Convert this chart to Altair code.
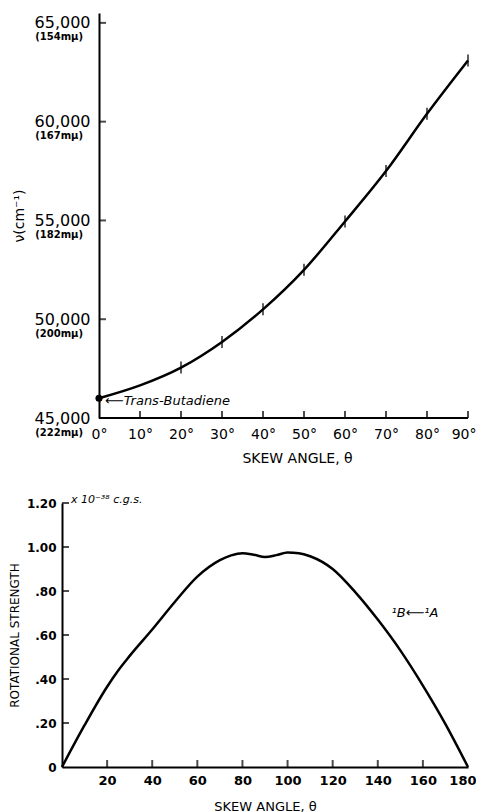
import altair as alt
import pandas as pd

# ---------------- data ----------------
# top panel: transition energy vs skew angle
theta_top = [0, 10, 20, 30, 40, 50, 60, 70, 80, 90]
nu_top = [46000, 46650, 47550, 48850, 50500, 52500, 54950, 57500, 60400, 63100]
marked_theta = [20, 30, 40, 50, 60, 70, 80, 90]
nu_ticks = [45000, 50000, 55000, 60000, 65000]
nu_wavelength = ["(222mμ)", "(200mμ)", "(182mμ)", "(167mμ)", "(154mμ)"]
top_x_ticks = [0, 10, 20, 30, 40, 50, 60, 70, 80, 90]

# bottom panel: rotational strength vs skew angle
theta_bot = [0, 10, 20, 25, 30, 40, 50, 60, 70, 75, 80, 85, 90, 95, 100, 105, 110,
             120, 130, 140, 150, 160, 170, 180]
rs_bot = [0, 0.19, 0.365, 0.44, 0.505, 0.625, 0.75, 0.865, 0.94, 0.962, 0.972, 0.965,
          0.955, 0.963, 0.975, 0.972, 0.958, 0.90, 0.795, 0.67, 0.53, 0.37, 0.195, 0]
rs_ticks = [0, 0.2, 0.4, 0.6, 0.8, 1.0, 1.2]
bot_x_ticks = [20, 40, 60, 80, 100, 120, 140, 160, 180]

FONT = "DejaVu Sans"

# ---------------- layout constants ----------------
PW = 406                      # common plot-area width of both panels
TOP_SHIFT = 37                # top panel's y axis sits this far right of the bottom panel's
TH, BH = 405, 264
top_xmin = -90.0 * TOP_SHIFT / (PW - TOP_SHIFT)
top_dx_per_px = (90.0 - top_xmin) / PW
top_dy_per_px = (65500 - 45000) / TH
bot_dx_per_px = 180.0 / PW
bot_dy_per_px = 1.2 / BH
TICK_PX = 7

# ---------------- top panel ----------------
top_df = pd.DataFrame({"theta": theta_top, "nu": nu_top})
marked_df = top_df[top_df["theta"].isin(marked_theta)]
ylab_df = pd.DataFrame({"nu": nu_ticks, "wl": nu_wavelength, "theta": [0] * len(nu_ticks)})
# inward axis ticks (centred half a tick inside the axis line)
xt_df = pd.DataFrame({"theta": top_x_ticks[1:],
                      "nu": [min(nu_ticks) + TICK_PX / 2 * top_dy_per_px] * (len(top_x_ticks) - 1)})
yt_df = pd.DataFrame({"nu": nu_ticks[1:],
                      "theta": [min(top_x_ticks) + TICK_PX / 2 * top_dx_per_px] * (len(nu_ticks) - 1)})
base_df = pd.DataFrame({"theta": [min(top_x_ticks)], "theta2": [max(top_x_ticks)], "nu": [min(nu_ticks)]})
dot_df = pd.DataFrame({"theta": [theta_top[0]], "nu": [nu_top[0]], "label": ["⟵Trans-Butadiene"]})

xs_top = alt.Scale(domain=[top_xmin, 90], nice=False, zero=False)
ys_top = alt.Scale(domain=[45000, 65500], nice=False, zero=False)
xa_top = alt.Axis(values=top_x_ticks, labelExpr="datum.value + '°'", title="SKEW ANGLE, θ",
                  ticks=False, grid=False, domain=False,
                  labelFontSize=14, labelPadding=9.5, labelColor="black", labelFont=FONT,
                  labelAlign={"condition": {"test": "datum.value == 90", "value": "right"}, "value": "center"},
                  labelOffset={"condition": {"test": "datum.value == 90", "value": 8}, "value": 0},
                  titleFontSize=14, titleFontWeight="normal", titlePadding=10, titleX=235,
                  titleColor="black", titleFont=FONT, labelFlush=False)
ya_top = alt.Axis(values=nu_ticks, format=",d", title="ν(cm⁻¹)", offset=-TOP_SHIFT,
                  ticks=False, grid=False, domainColor="black", domainWidth=2,
                  labelFontSize=16, labelPadding=9, labelColor="black", labelFont=FONT,
                  titleFontSize=14, titleFontWeight="normal", titlePadding=8,
                  titleColor="black", titleFont=FONT, labelFlush=False)
X_TOP = alt.X("theta:Q", scale=xs_top, axis=xa_top)
Y_TOP = alt.Y("nu:Q", scale=ys_top, axis=ya_top)

top_line = alt.Chart(top_df).mark_line(color="black", strokeWidth=2.5, interpolate="monotone").encode(
    x=X_TOP, y=Y_TOP)

top_marks = alt.Chart(marked_df).mark_tick(orient="vertical", color="black", size=12, thickness=1.8).encode(
    x=X_TOP, y=Y_TOP)

top_base = alt.Chart(base_df).mark_rule(color="black", strokeWidth=2).encode(
    x=X_TOP, x2="theta2:Q", y=Y_TOP)

top_wl = alt.Chart(ylab_df).mark_text(
    align="right", baseline="middle", dx=-16, dy=14.5, fontSize=10,
    fontWeight="bold", font=FONT, color="black").encode(
    x=X_TOP, y=Y_TOP, text="wl:N")

top_xt = alt.Chart(xt_df).mark_tick(orient="vertical", color="black", size=TICK_PX, thickness=2).encode(
    x=X_TOP, y=Y_TOP)
top_yt = alt.Chart(yt_df).mark_tick(orient="horizontal", color="black", size=TICK_PX, thickness=2).encode(
    x=X_TOP, y=Y_TOP)

top_dot = alt.Chart(dot_df).mark_circle(color="black", size=50, opacity=1).encode(x=X_TOP, y=Y_TOP)
top_lbl = alt.Chart(dot_df).mark_text(align="left", baseline="middle", dx=6, dy=3, fontSize=13,
                                      fontStyle="italic", font=FONT, color="black").encode(
    x=X_TOP, y=Y_TOP, text="label:N")

top = alt.layer(top_line, top_base, top_marks, top_wl, top_xt, top_yt, top_dot, top_lbl).properties(
    width=PW, height=TH)

# ---------------- bottom panel ----------------
bot_df = pd.DataFrame({"theta": theta_bot, "rs": rs_bot})
bxt_df = pd.DataFrame({"theta": bot_x_ticks[:-1],
                       "rs": [TICK_PX / 2 * bot_dy_per_px] * (len(bot_x_ticks) - 1)})
byt_df = pd.DataFrame({"rs": rs_ticks[1:],
                       "theta": [TICK_PX / 2 * bot_dx_per_px] * (len(rs_ticks) - 1)})
unit_df = pd.DataFrame({"theta": [4], "rs": [1.2], "label": ["x 10⁻³⁸ c.g.s."]})
trans_df = pd.DataFrame({"theta": [156.5], "rs": [0.70], "label": ["¹B⟵¹A"]})

xs_bot = alt.Scale(domain=[0, 180], nice=False, zero=False)
ys_bot = alt.Scale(domain=[0, 1.2], nice=False, zero=False)
xa_bot = alt.Axis(values=bot_x_ticks, title="SKEW ANGLE, θ",
                  ticks=False, grid=False, domainColor="black", domainWidth=2,
                  labelFontSize=13, labelFontWeight="bold", labelPadding=7.5, labelColor="black",
                  labelAlign={"condition": {"test": "datum.value == 180", "value": "right"}, "value": "center"},
                  labelOffset={"condition": {"test": "datum.value == 180", "value": 8}, "value": 0},
                  labelFont=FONT, titleFontSize=13, titleFontWeight="normal", titlePadding=13,
                  titleColor="black", titleFont=FONT, labelFlush=False)
ya_bot = alt.Axis(values=rs_ticks, title="ROTATIONAL  STRENGTH",
                  labelExpr="datum.value == 0 ? '0' : (datum.value >= 1 ? format(datum.value, '.2f') : replace(format(datum.value, '.2f'), '0.', '.'))",
                  ticks=False, grid=False, domainColor="black", domainWidth=2,
                  labelFontSize=12, labelFontWeight="bold", labelPadding=6, labelColor="black",
                  labelFont=FONT, titleFontSize=12, titleFontWeight="normal", titlePadding=5,
                  titleColor="black", titleFont=FONT, labelFlush=False)
X_BOT = alt.X("theta:Q", scale=xs_bot, axis=xa_bot)
Y_BOT = alt.Y("rs:Q", scale=ys_bot, axis=ya_bot)

bot_line = alt.Chart(bot_df).mark_line(color="black", strokeWidth=2.5, interpolate="monotone").encode(
    x=X_BOT, y=Y_BOT)

bot_xt = alt.Chart(bxt_df).mark_tick(orient="vertical", color="black", size=TICK_PX, thickness=2).encode(
    x=X_BOT, y=Y_BOT)
bot_yt = alt.Chart(byt_df).mark_tick(orient="horizontal", color="black", size=TICK_PX, thickness=2).encode(
    x=X_BOT, y=Y_BOT)
bot_unit = alt.Chart(unit_df).mark_text(align="left", baseline="middle", dy=-3, fontSize=11,
                                        fontStyle="italic", font=FONT, color="black").encode(
    x=X_BOT, y=Y_BOT, text="label:N")
bot_trans = alt.Chart(trans_df).mark_text(align="center", baseline="middle", fontSize=13,
                                          fontStyle="italic", font=FONT, color="black").encode(
    x=X_BOT, y=Y_BOT, text="label:N")

bottom = alt.layer(bot_line, bot_xt, bot_yt, bot_unit, bot_trans).properties(width=PW, height=BH)

chart = alt.vconcat(top, bottom, spacing=28).properties(
    padding={"left": 0, "top": 5, "right": 0, "bottom": 0},
    background="white",
).configure(font=FONT).configure_view(stroke=None)

chart.save("out.html", embed_options={"renderer": "svg", "actions": False})
